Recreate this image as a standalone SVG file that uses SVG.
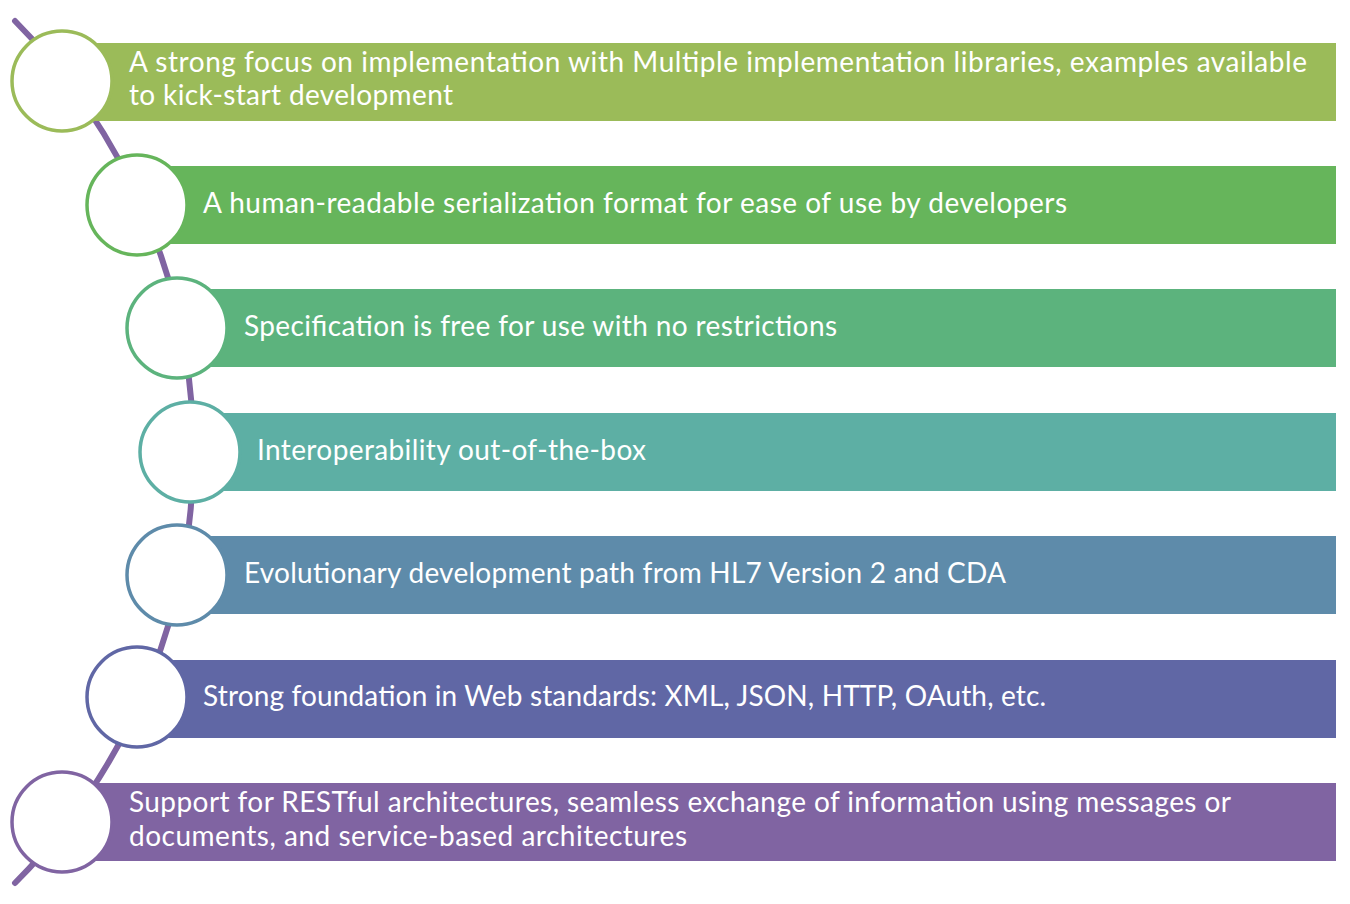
<svg xmlns="http://www.w3.org/2000/svg" width="1350" height="904" viewBox="0 0 1350 904">
<style>
.t{font-family:Lato,"Open Sans","Liberation Sans",sans-serif;font-size:28px;fill:#FFFFFF;}
.c{fill:#FFFFFF;stroke-width:3.5;}
</style>
<rect width="1350" height="904" fill="#FFFFFF"/>
<g id="connectors">
<path d="M15,21 A610,610 0 0 1 15,883" fill="none" stroke="#8064A2" stroke-width="6" stroke-linecap="round"/>
</g>
<g id="node1">
<rect x="62" y="43" width="1274" height="78" fill="#9BBB59"/>
<circle class="c" cx="62" cy="81" r="50" stroke="#9BBB59"/>
<text class="t" x="129" y="72" textLength="1178" lengthAdjust="spacing">A strong focus on implementation with Multiple implementation libraries, examples available</text>
<text class="t" x="129" y="105" textLength="324" lengthAdjust="spacing">to kick-start development</text>
</g>
<g id="node2">
<rect x="137" y="166" width="1199" height="78" fill="#66B55B"/>
<circle class="c" cx="137" cy="205" r="50" stroke="#66B55B"/>
<text class="t" x="203" y="213" textLength="864" lengthAdjust="spacing">A human-readable serialization format for ease of use by developers</text>
</g>
<g id="node3">
<rect x="177" y="289" width="1159" height="78" fill="#5CB37D"/>
<circle class="c" cx="177" cy="328" r="50" stroke="#5CB37D"/>
<text class="t" x="244" y="336" textLength="593" lengthAdjust="spacing">Specification is free for use with no restrictions</text>
</g>
<g id="node4">
<rect x="190" y="413" width="1146" height="78" fill="#5DAFA4"/>
<circle class="c" cx="190" cy="452" r="50" stroke="#5DAFA4"/>
<text class="t" x="257" y="460" textLength="389" lengthAdjust="spacing">Interoperability out-of-the-box</text>
</g>
<g id="node5">
<rect x="177" y="536" width="1159" height="78" fill="#5E8BAA"/>
<circle class="c" cx="177" cy="575" r="50" stroke="#5E8BAA"/>
<text class="t" x="244" y="583" textLength="762" lengthAdjust="spacing">Evolutionary development path from HL7 Version 2 and CDA</text>
</g>
<g id="node6">
<rect x="137" y="660" width="1199" height="78" fill="#6067A5"/>
<circle class="c" cx="137" cy="697" r="50" stroke="#6067A5"/>
<text class="t" x="203" y="706" textLength="843" lengthAdjust="spacing">Strong foundation in Web standards: XML, JSON, HTTP, OAuth, etc.</text>
</g>
<g id="node7">
<rect x="62" y="783" width="1274" height="78" fill="#8064A2"/>
<circle class="c" cx="62" cy="822" r="50" stroke="#8064A2"/>
<text class="t" x="129" y="812" textLength="1102" lengthAdjust="spacing">Support for RESTful architectures, seamless exchange of information using messages or</text>
<text class="t" x="129" y="846" textLength="558" lengthAdjust="spacing">documents, and service-based architectures</text>
</g>
</svg>
